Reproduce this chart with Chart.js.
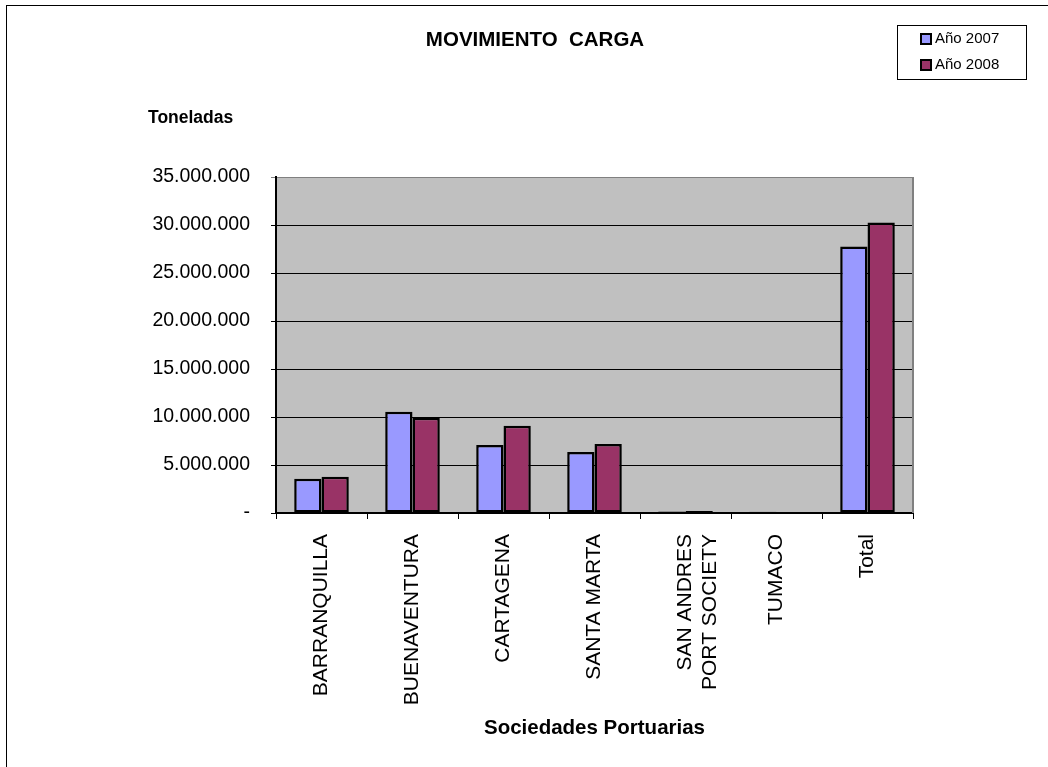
<!DOCTYPE html>
<html lang="es">
<head>
<meta charset="utf-8">
<title>Movimiento carga</title>
<script src="https://cdn.jsdelivr.net/npm/chart.js@4.4.1/dist/chart.umd.min.js"></script>
<style>
  html, body { margin: 0; padding: 0; background: #fff; overflow: hidden; }
  #marco {
    position: absolute; left: 6px; top: 5px; width: 2000px; height: 2000px;
    border-left: 1.5px solid #000; border-top: 1.5px solid #000;
  }
  #contenedor { position: absolute; left: 0; top: 0; width: 1048px; height: 767px; }
</style>
</head>
<body>
<div id="marco"></div>
<div id="contenedor"><canvas id="chartCarga"></canvas></div>
<script>
// Datos (toneladas)
const categorias = [
  "BARRANQUILLA",
  "BUENAVENTURA",
  "CARTAGENA",
  "SANTA MARTA",
  ["SAN ANDRES", "PORT SOCIETY"],
  "TUMACO",
  "Total",
];
const ano2007 = [3570000, 10550000, 7080000, 6350000, 150000, 120000, 27750000];
const ano2008 = [3780000, 9930000, 9100000, 7190000, 200000, 100000, 30250000];

const titulo = "MOVIMIENTO  CARGA";
const tituloEjeY = "Toneladas";
const tituloEjeX = "Sociedades Portuarias";

const FUENTE = "'Liberation Sans', Arial, sans-serif";

// 35000000 -> "35.000.000", 0 -> "-"
function formatoMiles(v) {
  if (v === 0) return "-";
  return String(v).replace(/\B(?=(\d{3})+(?!\d))/g, ".");
}

// Fondo gris del area de trazado + titulo, "Toneladas" y leyenda
const decoracion = {
  id: "decoracion",
  beforeDraw(chart) {
    const { ctx, chartArea: a } = chart;
    ctx.save();
    ctx.fillStyle = "#C0C0C0";
    ctx.fillRect(a.left, a.top, a.right - a.left, a.bottom - a.top);
    ctx.restore();
  },
  beforeDatasetsDraw(chart) {
    const { ctx, chartArea: a } = chart;
    ctx.save();
    ctx.strokeStyle = "#808080";
    ctx.lineWidth = 2;
    ctx.beginPath();
    ctx.moveTo(a.right, a.top);
    ctx.lineTo(a.right, a.bottom);
    ctx.stroke();
    ctx.restore();
  },
  afterDraw(chart) {
    const ctx = chart.ctx;
    ctx.save();
    ctx.fillStyle = "#000";
    ctx.textBaseline = "middle";

    // titulo
    ctx.textAlign = "center";
    ctx.font = "bold 20.5px " + FUENTE;
    ctx.fillText(titulo, 535, 40);

    // titulo del eje Y (horizontal, arriba)
    ctx.textAlign = "left";
    ctx.font = "bold 17.5px " + FUENTE;
    ctx.fillText(tituloEjeY, 148, 118);

    // leyenda
    ctx.fillStyle = "#fff";
    ctx.fillRect(897.5, 25.5, 129, 54);
    ctx.strokeStyle = "#000";
    ctx.lineWidth = 1;
    ctx.strokeRect(897.5, 25.5, 129, 54);
    ctx.font = "15px " + FUENTE;
    chart.data.datasets.forEach((ds, i) => {
      const y = 39 + i * 26;
      ctx.fillStyle = ds.backgroundColor;
      ctx.fillRect(921, y - 5, 10, 10);
      ctx.lineWidth = 2;
      ctx.strokeRect(921, y - 5, 10, 10);
      ctx.fillStyle = "#000";
      ctx.fillText(ds.label, 935, y);
    });
    ctx.restore();
  },
};

Chart.defaults.color = "#000";
Chart.defaults.font.family = FUENTE;

new Chart(document.getElementById("chartCarga").getContext("2d"), {
  type: "bar",
  data: {
    labels: categorias,
    datasets: [
      {
        label: "Año 2007",
        data: ano2007,
        backgroundColor: "#9999FF",
        borderColor: "#000",
        borderWidth: 2.5,
        borderSkipped: false,
        categoryPercentage: 0.6,
        barPercentage: 1,
      },
      {
        label: "Año 2008",
        data: ano2008,
        backgroundColor: "#993366",
        borderColor: "#000",
        borderWidth: 2.5,
        borderSkipped: false,
        categoryPercentage: 0.6,
        barPercentage: 1,
      },
    ],
  },
  options: {
    responsive: true,
    maintainAspectRatio: false,
    animation: false,
    layout: { padding: { top: 177, right: 135, bottom: 0, left: 0 } },
    plugins: {
      legend: { display: false },
      title: { display: false },
      tooltip: { enabled: false },
    },
    scales: {
      x: {
        afterFit: (s) => { s.height = 254; },
        grid: {
          drawOnChartArea: false,
          drawTicks: true,
          tickLength: 6,
          color: "#000",
        },
        border: { color: "#000", width: 2 },
        ticks: {
          autoSkip: false,
          maxRotation: 90,
          minRotation: 90,
          padding: 15,
          font: { size: 21 },
        },
        title: {
          display: true,
          text: tituloEjeX,
          font: { size: 20.5, weight: "bold" },
          padding: { top: 0, bottom: 26 },
        },
      },
      y: {
        min: 0,
        max: 35000000,
        afterFit: (s) => { s.width = 276; },
        grid: {
          tickLength: 5,
          color: (c) => (c.tick && c.tick.value === 35000000 ? "#808080" : "#000"),
          lineWidth: 1,
        },
        border: { color: "#000", width: 2 },
        ticks: {
          stepSize: 5000000,
          padding: 21,
          font: { size: 19.5 },
          callback: (v) => formatoMiles(v),
        },
      },
    },
  },
  plugins: [decoracion],
});
</script>
</body>
</html>
